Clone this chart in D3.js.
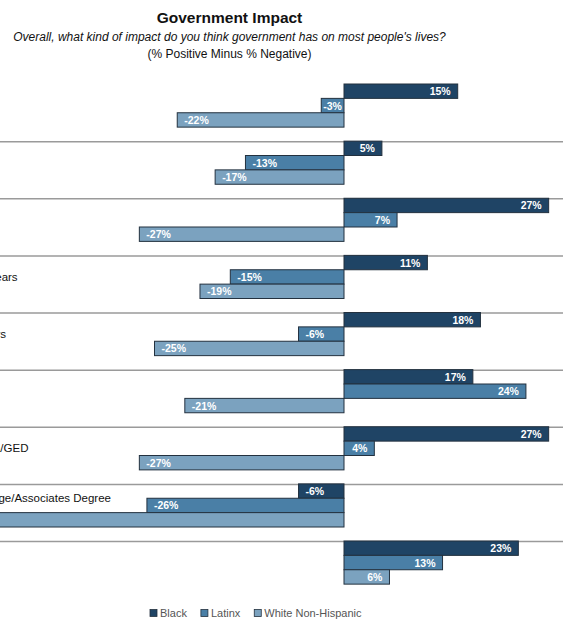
<!DOCTYPE html>
<html><head><meta charset="utf-8">
<script src="https://cdn.jsdelivr.net/npm/d3@7"></script>
<style>
body{margin:0;background:#fff;}
svg{display:block;font-family:"Liberation Sans",Arial,sans-serif;}
</style>
</head><body>
<svg id="chart" width="563" height="621"></svg>
<script>
// ---- data ----
const categories = ["Total","Men","Women","Under 35 years","35 - 54 years","55+ years","HS Diploma/GED","Some College/Associates Degree","Bachelor's+"];
const series = ["Black","Latinx","White Non-Hispanic"];
const blackValues  = [15, 5, 27, 11, 18, 17, 27, -6, 23];
const latinxValues = [-3, -13, 7, -15, -6, 24, 4, -26, 13];
const whiteValues  = [-22, -17, -27, -19, -25, -21, -27, -52, 6];
const seriesColors = ["#1f4465", "#4a7fa6", "#7ba2bf"];
const titleText = "Government Impact";
const subtitleText = "Overall, what kind of impact do you think government has on most people's lives?";
const noteText = "(% Positive Minus % Negative)";

const valuesBySeries = [blackValues, latinxValues, whiteValues];
const rows = [];
categories.forEach((c, i) => series.forEach((s, j) => rows.push({cat: c, ser: s, si: j, v: valuesBySeries[j][i]})));

const svg = d3.select("#chart");
const W = 563, H = 621;
svg.append("rect").attr("width", W).attr("height", H).attr("fill", "#fff");

// scales
const pxPerPct = 7.58, zeroX = 344;
const x = d3.scaleLinear().domain([-55, 30]).range([zeroX - 55 * pxPerPct, zeroX + 30 * pxPerPct]);
const y = d3.scaleBand().domain(categories).range([84, 84 + 57.125 * categories.length]).paddingInner(0).paddingOuter(0);
const yIn = d3.scaleBand().domain(series).range([0, y.bandwidth() * 0.755]).padding(0);
const color = d3.scaleOrdinal().domain(series).range(seriesColors);

// titles
const cx = 229.5;
svg.append("text").attr("x", cx).attr("y", 23).attr("text-anchor", "middle")
  .attr("font-size", 15.5).attr("font-weight", "bold").attr("fill", "#111").text(titleText);
svg.append("text").attr("x", cx).attr("y", 41).attr("text-anchor", "middle")
  .attr("font-size", 12).attr("font-style", "italic").attr("fill", "#111").text(subtitleText);
svg.append("text").attr("x", cx).attr("y", 58).attr("text-anchor", "middle")
  .attr("font-size", 12).attr("fill", "#111").text(noteText);

// separators
svg.append("g").selectAll("line").data(categories.slice(1)).join("line")
  .attr("x1", 0).attr("x2", W)
  .attr("y1", d => y(d) + 0.5).attr("y2", d => y(d) + 0.5)
  .attr("stroke", "#9a9a9a").attr("stroke-width", 1.5);

// category labels (the chart is cropped on the left, as in the reference)
const labelX = -61;
const lab = svg.append("g").selectAll("text").data(categories).join("text")
  .attr("x", labelX).attr("font-size", 11.5).attr("fill", "#111")
  .attr("dominant-baseline", "central")
  .text(d => d);
lab.each(function(d) {
  const w = this.getComputedTextLength();
  const mid = y(d) + yIn.range()[1] / 2;
  d3.select(this).attr("y", w > 150 ? mid - 7.5 : mid);
});

// bars
const barsG = svg.append("g");
barsG.selectAll("rect").data(rows).join("rect")
  .attr("x", d => x(Math.min(0, d.v)))
  .attr("width", d => Math.abs(x(d.v) - x(0)))
  .attr("y", d => y(d.cat) + yIn(d.ser))
  .attr("height", yIn.bandwidth())
  .attr("fill", d => color(d.ser))
  .attr("stroke", "#23313f").attr("stroke-width", 1);

// value labels
const vl = svg.append("g").selectAll("text").data(rows).join("text")
  .attr("font-size", 10.5).attr("font-weight", "bold").attr("fill", "#fff")
  .attr("dominant-baseline", "central")
  .attr("y", d => y(d.cat) + yIn(d.ser) + yIn.bandwidth() / 2)
  .text(d => d.v + "%");
vl.each(function(d) {
  const tw = this.getComputedTextLength();
  const bw = Math.abs(x(d.v) - x(0));
  const pad = Math.min(7, (bw - tw) / 2);
  const sel = d3.select(this);
  if (d.v >= 0) sel.attr("text-anchor", "end").attr("x", x(d.v) - pad);
  else sel.attr("text-anchor", "start").attr("x", x(d.v) + pad);
});

// legend
const lg = svg.append("g");
let lx = 150;
const ly = 613;
series.forEach((s, i) => {
  lg.append("rect").attr("x", lx).attr("y", ly - 3.5).attr("width", 7).attr("height", 7)
    .attr("fill", color(s)).attr("stroke", "#23313f").attr("stroke-width", 0.8);
  const t = lg.append("text").attr("x", lx + 10).attr("y", ly).attr("dominant-baseline", "central")
    .attr("font-size", 11).attr("fill", "#555").text(s);
  lx += 10 + t.node().getComputedTextLength() + 14;
});
</script>
</body></html>
